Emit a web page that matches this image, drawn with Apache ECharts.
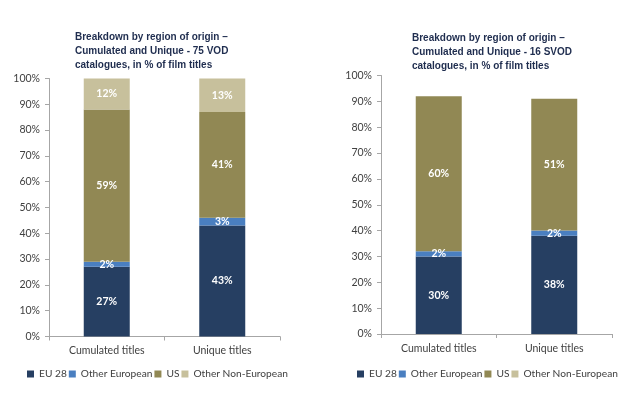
<!DOCTYPE html>
<html><head><meta charset="utf-8">
<script src="https://cdn.jsdelivr.net/npm/echarts@6/dist/echarts.min.js"></script>
<style>html,body{margin:0;padding:0;background:#fff}#c{width:634px;height:396px}</style>
</head><body><div id="c"></div>
<script>
const categories = ['Cumulated titles', 'Unique titles'];
const seriesNames = ['EU 28', 'Other European', 'US', 'Other Non-European'];
const vodEU28 = [27, 43];
const vodOtherEuropean = [2, 3];
const vodUS = [59, 41];
const vodOtherNonEuropean = [12, 13];
const svodEU28 = [30, 38];
const svodOtherEuropean = [2, 2];
const svodUS = [60, 51];
const svodOtherNonEuropean = [null, null];
const yTicks = [0, 10, 20, 30, 40, 50, 60, 70, 80, 90, 100];
const titleVOD = 'Breakdown by region of origin –\nCumulated and Unique - 75 VOD\ncatalogues, in % of film titles';
const titleSVOD = 'Breakdown by region of origin –\nCumulated and Unique - 16 SVOD\ncatalogues, in % of film titles';

const colors = ['#263f62', '#4a7fc0', '#918854', '#c7c09c'];
const font = 'Lato';
const tfont = 'Liberation Sans';
const chart = echarts.init(document.getElementById('c'));

function yAxis(gi) {
  return {
    type: 'value', gridIndex: gi, min: 0, max: 100, interval: 10,
    axisLine: { show: true, lineStyle: { color: '#a6a6a6' } },
    axisTick: { show: true, length: 4, lineStyle: { color: '#a6a6a6' } },
    splitLine: { show: false },
    axisLabel: { formatter: v => yTicks.includes(v) ? v + '%' : '', color: '#404040', fontSize: 10.5, fontFamily: font, margin: 9 }
  };
}
function xAxis(gi) {
  return {
    type: 'category', gridIndex: gi, data: categories,
    axisLine: { lineStyle: { color: '#a6a6a6' } },
    axisTick: { show: true, length: 4, lineStyle: { color: '#a6a6a6' } },
    axisLabel: { color: '#404040', fontSize: 10.5, fontFamily: font, margin: 9 }
  };
}
function mk(name, data, gi, idx) {
  return {
    name: name, type: 'bar', stack: 's' + gi, xAxisIndex: gi, yAxisIndex: gi,
    data: data, barWidth: 46,
    itemStyle: { color: colors[idx] },
    label: { show: true, position: 'inside', formatter: p => p.value + '%', color: '#fff', fontSize: 10.5, fontWeight: 'bold', fontFamily: font }
  };
}
const vod = [vodEU28, vodOtherEuropean, vodUS, vodOtherNonEuropean];
const svod = [svodEU28, svodOtherEuropean, svodUS, svodOtherNonEuropean];
const series = [];
seriesNames.forEach((n, i) => series.push(mk(n, vod[i], 0, i)));
seriesNames.forEach((n, i) => series.push(mk(n, svod[i], 1, i)));

const legendBase = {
  data: seriesNames, itemWidth: 7, itemHeight: 7, itemGap: 2, icon: 'rect',
  width: 300, padding: 0,
  textStyle: { color: '#404040', fontSize: 10.2, fontFamily: font },
  top: 369, selectedMode: false
};
chart.setOption({
  animation: false,
  title: [
    { text: titleVOD, left: 70, top: 25, textStyle: { fontSize: 10, fontWeight: 'bold', color: '#1f2d4f', lineHeight: 14, fontFamily: tfont } },
    { text: titleSVOD, left: 407, top: 26, textStyle: { fontSize: 10, fontWeight: 'bold', color: '#1f2d4f', lineHeight: 14, fontFamily: tfont } }
  ],
  legend: [
    Object.assign({}, legendBase, { left: 27 }),
    Object.assign({}, legendBase, { left: 357 })
  ],
  grid: [
    { left: 49, right: 354, top: 78.5, bottom: 59.5 },
    { left: 381, right: 22, top: 75.5, bottom: 62 }
  ],
  xAxis: [xAxis(0), xAxis(1)],
  yAxis: [yAxis(0), yAxis(1)],
  series: series
});
</script></body></html>
